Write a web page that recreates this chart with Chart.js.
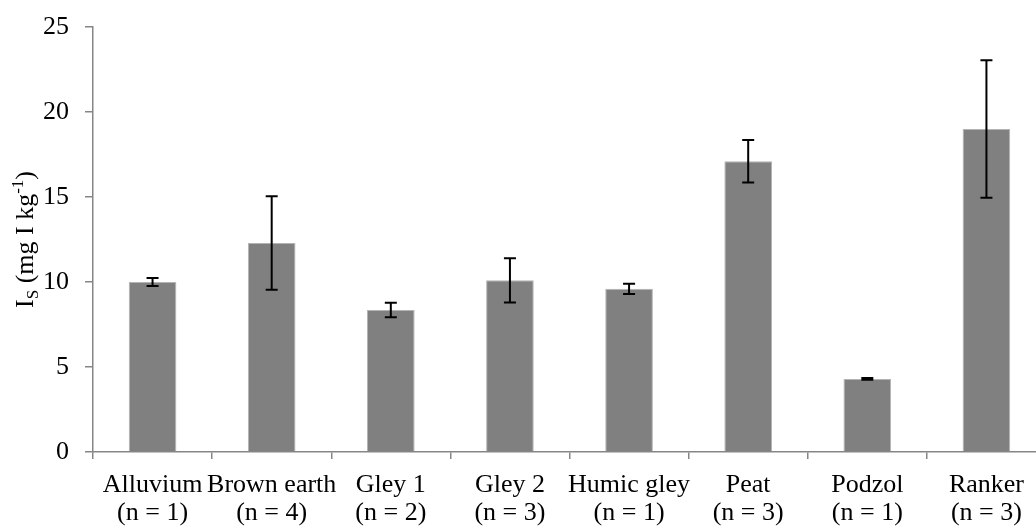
<!DOCTYPE html>
<html>
<head>
<meta charset="utf-8">
<script src="https://cdn.jsdelivr.net/npm/chart.js@4.4.1/dist/chart.umd.min.js"></script>
<style>
  html, body { margin: 0; padding: 0; background: #ffffff; overflow: hidden; }
  #wrap { position: relative; width: 1060px; height: 529px; }
</style>
</head>
<body>
<div id="wrap"><canvas id="chart"></canvas></div>
<script>
// Soil types and number of samples per type
const soilTypes = ['Alluvium', 'Brown earth', 'Gley 1', 'Gley 2', 'Humic gley', 'Peat', 'Podzol', 'Ranker'];
const sampleCounts = ['(n = 1)', '(n = 4)', '(n = 2)', '(n = 3)', '(n = 1)', '(n = 3)', '(n = 1)', '(n = 3)'];
// Mean soil iodine (mg I kg-1) and its error (±)
const meanIodine = [10.0, 12.3, 8.35, 10.1, 9.6, 17.1, 4.3, 19.0];
const iodineError = [0.23, 2.75, 0.43, 1.3, 0.3, 1.25, 0.05, 4.05];
// Value axis ticks
const yTicks = [0, 5, 10, 15, 20, 25];

const SERIF = "'Liberation Serif', 'Times New Roman', serif";
const AXIS_GREY = '#868686';

const labels = soilTypes.map((s, i) => [s, sampleCounts[i]]);

// Draws the ± error bars with caps on top of each bar
const errorBars = {
  id: 'errorBars',
  afterDatasetsDraw(chart) {
    const meta = chart.getDatasetMeta(0);
    const y = chart.scales.y;
    const ctx = chart.ctx;
    ctx.save();
    ctx.strokeStyle = '#000000';
    ctx.lineWidth = 2;
    meta.data.forEach((bar, i) => {
      const v = meanIodine[i], e = iodineError[i];
      const top = y.getPixelForValue(v + e);
      const bot = y.getPixelForValue(v - e);
      const x = bar.x;
      const cap = 6;
      ctx.beginPath();
      ctx.moveTo(x, top); ctx.lineTo(x, bot);
      ctx.moveTo(x - cap, top); ctx.lineTo(x + cap, top);
      ctx.moveTo(x - cap, bot); ctx.lineTo(x + cap, bot);
      ctx.stroke();
    });
    ctx.restore();
  }
};

// Vertical axis title with subscript and superscript: I_S (mg I kg^-1)
const yTitle = {
  id: 'yTitle',
  afterDraw(chart) {
    const ctx = chart.ctx;
    const area = chart.chartArea;
    const big = 26, small = 17;
    const parts = [
      { t: 'I', size: big, dy: 0 },
      { t: 'S', size: small, dy: 5 },
      { t: ' (mg I kg', size: big, dy: 0 },
      { t: '-1', size: small, dy: -10 },
      { t: ')', size: big, dy: 0 }
    ];
    ctx.save();
    let total = 0;
    parts.forEach(p => {
      ctx.font = p.size + 'px ' + SERIF;
      p.w = ctx.measureText(p.t).width;
      total += p.w;
    });
    ctx.translate(33, (area.top + area.bottom) / 2);
    ctx.rotate(-Math.PI / 2);
    ctx.fillStyle = '#000000';
    ctx.textBaseline = 'alphabetic';
    ctx.textAlign = 'left';
    let x = -total / 2;
    parts.forEach(p => {
      ctx.font = p.size + 'px ' + SERIF;
      ctx.fillText(p.t, x, p.dy);
      x += p.w;
    });
    ctx.restore();
  }
};

new Chart(document.getElementById('chart'), {
  type: 'bar',
  data: {
    labels: labels,
    datasets: [{
      data: meanIodine,
      backgroundColor: '#808080',
      borderColor: '#b4b4b4',
      borderWidth: 1,
      categoryPercentage: 1.0,
      barPercentage: 0.4
    }]
  },
  options: {
    responsive: true,
    maintainAspectRatio: false,
    animation: false,
    layout: { padding: { top: 27, right: 14, left: 0, bottom: 0 } },
    plugins: {
      legend: { display: false },
      tooltip: { enabled: false },
      title: { display: false }
    },
    scales: {
      x: {
        grid: {
          offset: true,
          drawOnChartArea: false,
          drawTicks: true,
          tickLength: 7,
          color: AXIS_GREY,
          lineWidth: 1.5
        },
        border: { display: true, color: AXIS_GREY, width: 1.5 },
        ticks: {
          color: '#000000',
          font: { family: SERIF, size: 26, lineHeight: 1.08 },
          padding: 12,
          maxRotation: 0,
          autoSkip: false
        },
        afterFit(scale) { scale.height = 77; }
      },
      y: {
        min: 0,
        max: 25,
        afterBuildTicks(scale) { scale.ticks = yTicks.map(v => ({ value: v })); },
        grid: {
          drawOnChartArea: false,
          drawTicks: true,
          tickLength: 8,
          color: AXIS_GREY,
          lineWidth: 1.5
        },
        border: { display: true, color: AXIS_GREY, width: 1.5 },
        ticks: {
          color: '#000000',
          font: { family: SERIF, size: 26 },
          padding: 16
        },
        afterFit(scale) {
          scale.width = 93;
          scale.paddingTop = 0;
          scale.paddingBottom = 0;
        }
      }
    }
  },
  plugins: [errorBars, yTitle]
});
</script>
</body>
</html>
